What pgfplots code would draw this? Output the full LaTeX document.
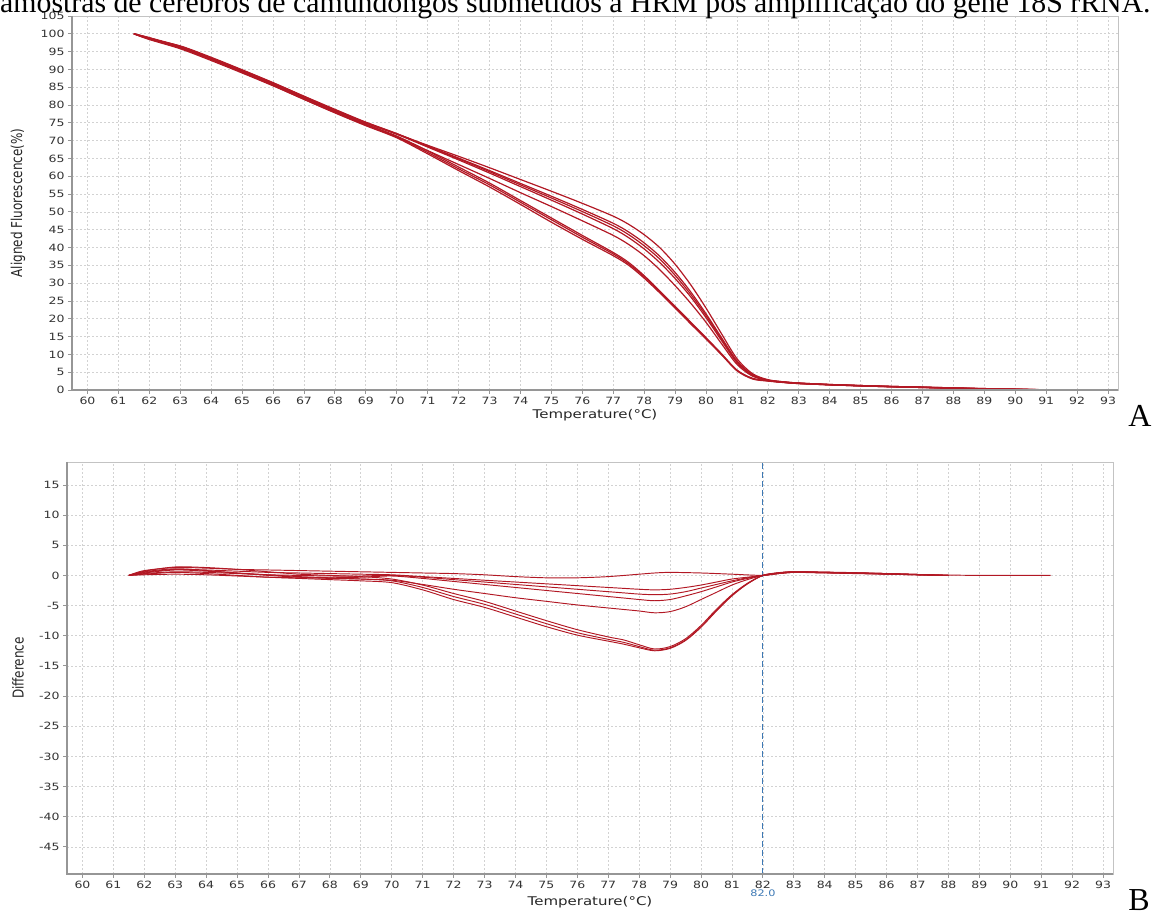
\documentclass[border=0pt]{standalone}
\usepackage{fontspec}
\setmainfont{Liberation Serif}
\newfontfamily\chartfont[FakeStretch=1.25]{DejaVu Sans}
\newfontfamily\chartfontv[FakeStretch=0.8]{DejaVu Sans}
\usepackage{pgfplots}
\pgfplotsset{compat=1.18}
\definecolor{hrmred}{RGB}{178,24,36}
\definecolor{gridc}{RGB}{210,210,210}
\definecolor{framec}{RGB}{195,195,195}
\definecolor{axisc}{RGB}{150,150,150}
\definecolor{vline}{RGB}{60,120,180}
\pgfplotsset{hrm/.style={
  scale only axis, width=1046pt,
  xmin=59.5, xmax=93.32,
  xtick={60,...,93},
  grid=major, grid style={gridc, dash pattern=on 2pt off 2pt, line width=0.7pt},
  axis line style={framec, line width=0.8pt},
  tick pos=left, tick align=outside, major tick length=4pt,
  tick style={axisc, line width=0.8pt},
  /pgf/number format/assume math mode=true,
  ticklabel style={font=\chartfont\fontsize{10}{11}\selectfont, text=black!80},
  every axis x label/.style={at={(axis description cs:0.5,0)}, anchor=center, font=\chartfont\fontsize{12}{14}\selectfont, text=black!85},
  every axis y label/.style={at={(axis description cs:0,0.5)}, anchor=center, rotate=90, font=\chartfontv\fontsize{15}{17}\selectfont, text=black!85},
  after end axis/.code={\draw[axisc, line width=1.4pt] (rel axis cs:0,1) -- (rel axis cs:0,0) -- (rel axis cs:1,0);}
},
hA/.style={color=hrmred, solid, line width=1.2pt, no marks, smooth},
hB/.style={color=hrmred, solid, line width=0.95pt, no marks, smooth}}
\begin{document}
\begin{tikzpicture}[x=1pt,y=1pt]
% ---------------- Panel A ----------------
\begin{axis}[hrm, at={(72pt,525pt)}, anchor=south west, height=374pt,
  ymin=0, ymax=105, ytick={0,5,...,105},
  xlabel={Temperature(°C)}, ylabel={Aligned Fluorescence(\%)},
  xlabel style={yshift=-25pt}, ylabel style={yshift=54pt}]
\addplot[hA] coordinates {(61.5,100)(62,98.9)(63,96.2)(64,93.0)(65,89.6)(66,86.0)(67,82.3)(68,78.6)(69,75.1)(70,71.9)(71,68.7)(72,65.6)(73,62.4)(74,59.1)(75,55.8)(76,52.4)(77,48.8)(77.5,46.5)(78,43.6)(78.5,40.0)(79,35.3)(79.5,29.6)(80,23.0)(80.5,15.8)(81,8.8)(81.5,4.6)(82,2.9)(82.5,2.3)(83,1.95)(84,1.55)(85,1.25)(86,1.0)(87,0.8)(88,0.6)(89,0.4)(90,0.25)(90.8,0.1)};
\addplot[hA] coordinates {(61.5,100)(62,98.6)(63,96.6)(64,93.4)(65,89.9)(66,86.3)(67,82.5)(68,78.8)(69,75.2)(70,72.0)(71,68.5)(72,65.1)(73,61.6)(74,58.0)(75,54.4)(76,50.7)(77,46.8)(77.5,44.35)(78,41.3)(78.5,37.6)(79,33.0)(79.5,27.6)(80,21.4)(80.5,14.7)(81,8.2)(81.5,4.3)(82,2.8)(82.5,2.3)(83,1.95)(84,1.55)(85,1.25)(86,1.0)(87,0.8)(88,0.55)(89,0.35)(90,0.2)(90.5,0.1)};
\addplot[hA] coordinates {(61.5,100)(62,98.7)(63,96.4)(64,93.2)(65,89.8)(66,86.2)(67,82.4)(68,78.6)(69,75.0)(70,71.9)(71,68.4)(72,64.9)(73,61.3)(74,57.6)(75,53.9)(76,50.1)(77,46.1)(77.5,43.6)(78,40.5)(78.5,36.8)(79,32.2)(79.5,26.9)(80,20.9)(80.5,14.3)(81,7.9)(81.5,4.2)(82,2.7)(82.5,2.2)(83,1.9)(84,1.5)(85,1.2)(86,0.95)(87,0.75)(88,0.5)(89,0.3)(90,0.18)(90.6,0.08)};
\addplot[hA] coordinates {(61.5,100)(62,98.5)(63,96.0)(64,92.8)(65,89.4)(66,85.8)(67,82.1)(68,78.4)(69,74.9)(70,71.8)(71,68.2)(72,64.6)(73,60.9)(74,57.1)(75,53.3)(76,49.4)(77,45.3)(77.5,42.75)(78,39.6)(78.5,35.8)(79,31.3)(79.5,26.2)(80,20.3)(80.5,13.9)(81,7.7)(81.5,4.1)(82,2.7)(82.5,2.2)(83,1.85)(84,1.45)(85,1.15)(86,0.9)(87,0.7)(88,0.5)(89,0.3)(90,0.15)(90.4,0.08)};
\addplot[hA] coordinates {(61.5,100)(62,98.8)(63,96.3)(64,92.9)(65,89.3)(66,85.7)(67,81.9)(68,78.1)(69,74.6)(70,71.1)(71,67.2)(72,63.3)(73,59.4)(74,55.4)(75,51.5)(76,47.5)(77,43.4)(77.5,40.85)(78,37.7)(78.5,33.8)(79,29.3)(79.5,24.4)(80,19.0)(80.5,13.0)(81,7.2)(81.5,3.9)(82,2.7)(82.5,2.25)(83,1.9)(84,1.5)(85,1.25)(86,1.0)(87,0.8)(88,0.6)(89,0.4)(90,0.22)(90.7,0.1)};
\addplot[hA] coordinates {(61.5,100)(62,98.9)(63,96.5)(64,93.2)(65,89.6)(66,85.9)(67,82.0)(68,78.2)(69,74.6)(70,71.3)(71,67.1)(72,62.6)(73,58.1)(74,53.2)(75,48.3)(76,43.4)(77,38.6)(77.5,35.8)(78,32.1)(78.5,27.8)(79,23.5)(79.5,19.1)(80,14.7)(80.5,10.2)(81,5.6)(81.5,3.3)(82,2.6)(82.5,2.15)(83,1.85)(84,1.5)(85,1.2)(86,0.95)(87,0.75)(88,0.55)(89,0.35)(90,0.2)(90.9,0.08)};
\addplot[hA] coordinates {(61.5,100)(62,98.6)(63,96.1)(64,92.8)(65,89.2)(66,85.5)(67,81.6)(68,77.9)(69,74.4)(70,71.0)(71,66.7)(72,62.1)(73,57.6)(74,52.7)(75,47.8)(76,42.9)(77,38.2)(77.5,35.4)(78,31.8)(78.5,27.6)(79,23.3)(79.5,18.9)(80,14.5)(80.5,10.0)(81,5.5)(81.5,3.2)(82,2.6)(82.5,2.15)(83,1.8)(84,1.45)(85,1.15)(86,0.9)(87,0.7)(88,0.5)(89,0.3)(90,0.17)(90.6,0.08)};
\addplot[hA] coordinates {(61.5,100)(62,98.4)(63,95.8)(64,92.5)(65,89.0)(66,85.4)(67,81.6)(68,77.8)(69,74.2)(70,70.8)(71,66.3)(72,61.6)(73,57.0)(74,52.1)(75,47.1)(76,42.3)(77,37.7)(77.5,35.0)(78,31.4)(78.5,27.3)(79,23.0)(79.5,18.6)(80,14.3)(80.5,9.9)(81,5.4)(81.5,3.1)(82,2.5)(82.5,2.1)(83,1.8)(84,1.45)(85,1.15)(86,0.9)(87,0.7)(88,0.5)(89,0.32)(90,0.18)(90.8,0.08)};
\end{axis}
% ---------------- Panel B ----------------
\begin{axis}[hrm, at={(67pt,41pt)}, anchor=south west, height=412pt,
  ymin=-49.5, ymax=18.8, ytick={-45,-40,...,15},
  xlabel={Temperature(°C)}, ylabel={Difference},
  xlabel style={yshift=-28pt}, ylabel style={yshift=49pt},
  extra x ticks={82}, extra x tick labels={82.0},
  extra x tick style={grid=none, major tick length=0pt, tick label style={yshift=-12pt, text=vline, font=\chartfont\fontsize{9}{10}\selectfont}}]
\addplot[vline, line width=1pt, dash pattern=on 6pt off 3pt, sharp plot, no marks] coordinates {(82,-49.5)(82,18.8)};
\addplot[hB] coordinates {(61.5,0)(62,0.8)(63,1.3)(64,1.2)(65,1.0)(66,0.9)(67,0.8)(68,0.7)(69,0.6)(70,0.5)(71,0.4)(72,0.3)(73,0.1)(74,-0.2)(75,-0.4)(76,-0.4)(77,-0.2)(78,0.2)(78.5,0.4)(79,0.5)(80,0.4)(81,0.2)(82,0)(82.5,0.3)(83,0.5)(84,0.4)(85,0.3)(86,0.2)(87,0.1)(88,0.05)(89,0)(90,0)(91.3,0)};
\addplot[hB] coordinates {(61.5,0)(62,0.5)(63,1.0)(64,0.9)(65,0.7)(66,0.5)(67,0.4)(68,0.3)(69,0.2)(70,0.1)(71,-0.2)(72,-0.5)(73,-0.8)(74,-1.1)(75,-1.4)(76,-1.7)(77,-2.0)(77.5,-2.15)(78,-2.3)(78.5,-2.4)(79,-2.3)(79.5,-2.0)(80,-1.6)(80.5,-1.1)(81,-0.6)(81.5,-0.3)(82,0)(82.5,0.3)(83,0.5)(84,0.45)(85,0.35)(86,0.25)(87,0.1)(88,0)};
\addplot[hB] coordinates {(61.5,0)(62,0.3)(63,0.6)(64,0.5)(65,0.3)(66,0.1)(67,0)(68,-0.1)(69,-0.1)(70,0)(71,-0.3)(72,-0.7)(73,-1.1)(74,-1.5)(75,-1.9)(76,-2.3)(77,-2.7)(77.5,-2.9)(78,-3.1)(78.5,-3.2)(79,-3.1)(79.5,-2.7)(80,-2.1)(80.5,-1.5)(81,-0.9)(81.5,-0.4)(82,0)(82.5,0.35)(83,0.55)(84,0.5)(85,0.4)(86,0.3)(87,0.15)(88,0)};
\addplot[hB] coordinates {(61.5,0)(62,0.1)(63,0.2)(64,0.1)(65,-0.1)(66,-0.3)(67,-0.4)(68,-0.4)(69,-0.3)(70,-0.1)(71,-0.5)(72,-1.0)(73,-1.5)(74,-2.0)(75,-2.5)(76,-3.0)(77,-3.5)(77.5,-3.75)(78,-4.0)(78.5,-4.2)(79,-4.0)(79.5,-3.4)(80,-2.7)(80.5,-1.9)(81,-1.1)(81.5,-0.5)(82,0)(82.5,0.3)(83,0.5)(84,0.45)(85,0.35)(86,0.2)(87,0.1)(87.5,0)};
\addplot[hB] coordinates {(61.5,0)(62,0.6)(63,1.1)(64,0.8)(65,0.4)(66,0)(67,-0.3)(68,-0.5)(69,-0.6)(70,-0.8)(71,-1.5)(72,-2.3)(73,-3.0)(74,-3.7)(75,-4.3)(76,-4.9)(77,-5.4)(77.5,-5.65)(78,-5.9)(78.5,-6.2)(79,-6.0)(79.5,-5.2)(80,-4.0)(80.5,-2.8)(81,-1.6)(81.5,-0.7)(82,0)(82.5,0.4)(83,0.6)(84,0.5)(85,0.4)(86,0.25)(87,0.1)(88,0)};
\addplot[hB] coordinates {(61.5,0)(62,0.7)(63,1.4)(64,1.3)(65,1.0)(66,0.6)(67,0.2)(68,0)(69,-0.2)(70,-0.6)(71,-1.6)(72,-3.0)(73,-4.3)(74,-5.9)(75,-7.5)(76,-9.0)(77,-10.2)(77.5,-10.7)(78,-11.5)(78.5,-12.2)(79,-11.8)(79.5,-10.5)(80,-8.3)(80.5,-5.6)(81,-3.2)(81.5,-1.3)(82,0)(82.5,0.4)(83,0.6)(84,0.5)(85,0.4)(86,0.3)(87,0.15)(88,0)};
\addplot[hB] coordinates {(61.5,0)(62,0.4)(63,0.9)(64,0.7)(65,0.4)(66,0.1)(67,-0.2)(68,-0.4)(69,-0.6)(70,-0.9)(71,-2.0)(72,-3.5)(73,-4.8)(74,-6.4)(75,-8.0)(76,-9.5)(77,-10.6)(77.5,-11.1)(78,-11.8)(78.5,-12.4)(79,-12.0)(79.5,-10.7)(80,-8.5)(80.5,-5.8)(81,-3.3)(81.5,-1.4)(82,0)(82.5,0.45)(83,0.6)(84,0.55)(85,0.45)(86,0.3)(87,0.15)(88,0)};
\addplot[hB] coordinates {(61.5,0)(62,0.2)(63,0.5)(64,0.3)(65,0)(66,-0.3)(67,-0.5)(68,-0.7)(69,-0.9)(70,-1.2)(71,-2.4)(72,-4.0)(73,-5.3)(74,-6.9)(75,-8.5)(76,-9.9)(77,-10.9)(77.5,-11.4)(78,-12.0)(78.5,-12.5)(79,-12.1)(79.5,-10.8)(80,-8.6)(80.5,-5.9)(81,-3.4)(81.5,-1.4)(82,0)(82.5,0.4)(83,0.55)(84,0.5)(85,0.4)(86,0.3)(87,0.15)(88,0)};
\end{axis}
% ---------------- text ----------------
\node[anchor=base west, inner sep=0pt, font=\fontsize{29.8}{32}\selectfont] at (0,902) {amostras de cérebros de camundongos submetidos a HRM pós amplificação do gene 18S rRNA.};
\node[anchor=base, inner sep=0pt, font=\fontsize{32}{36}\selectfont] at (1140,488) {A};
\node[anchor=base, inner sep=0pt, font=\fontsize{32}{36}\selectfont] at (1139,4) {B};
\pgfresetboundingbox
\useasboundingbox (0,0) rectangle (1154,915);
\end{tikzpicture}
\end{document}
